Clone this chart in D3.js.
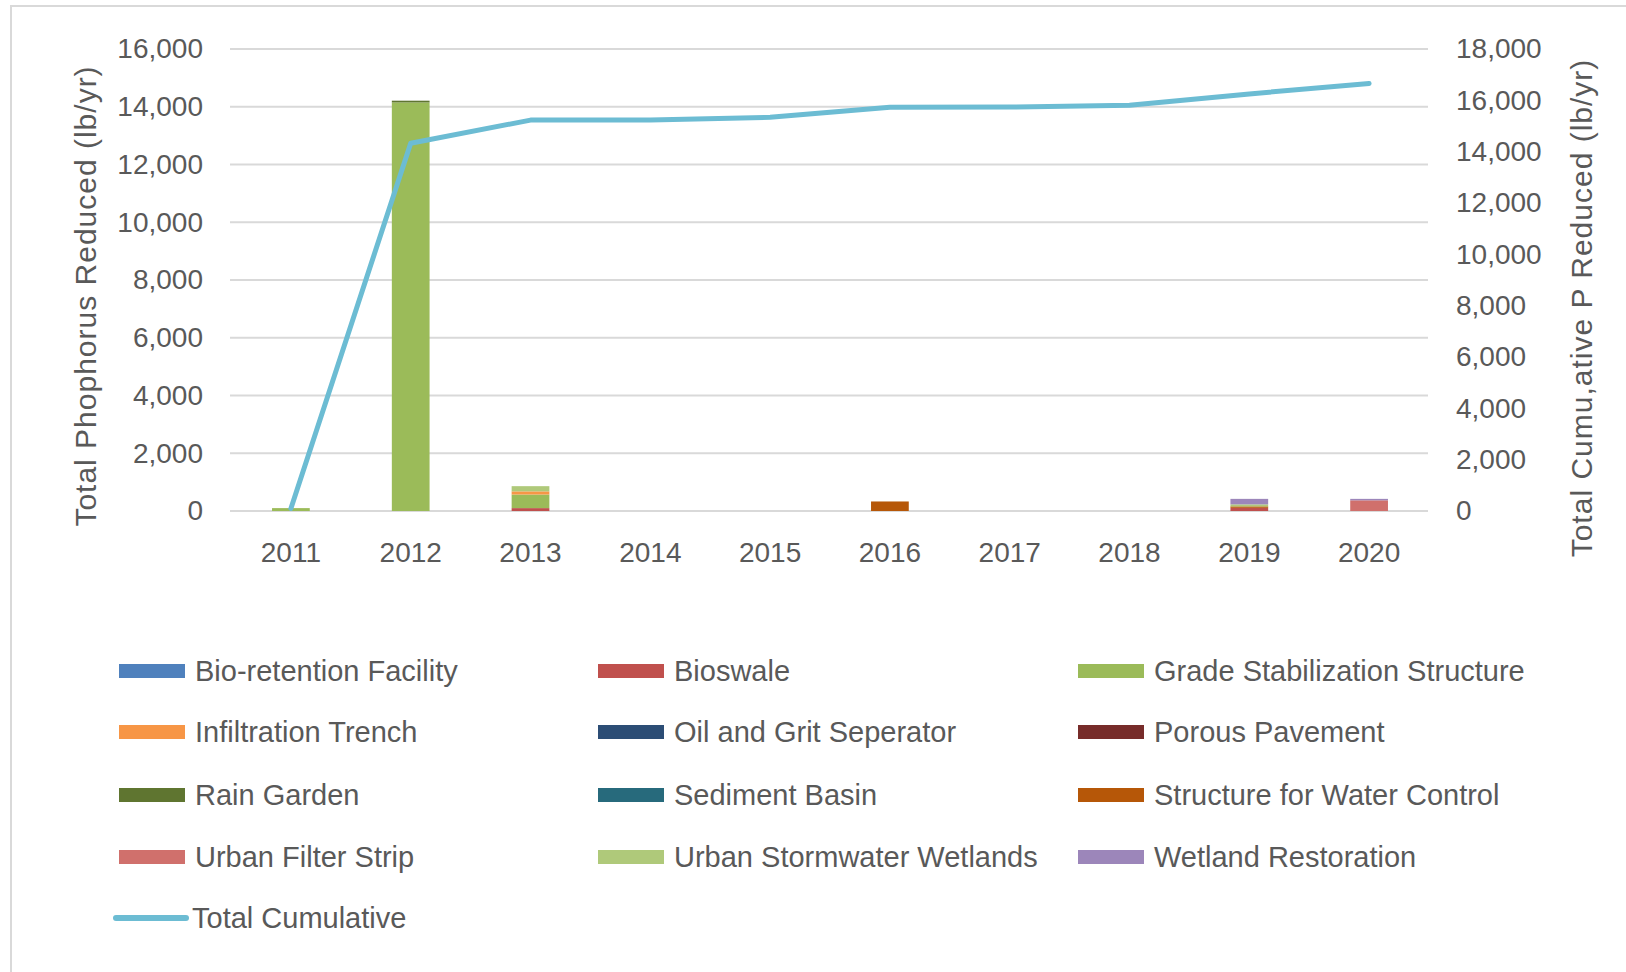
<!DOCTYPE html>
<html>
<head>
<meta charset="utf-8">
<script src="https://cdn.jsdelivr.net/npm/d3@7"></script>
<style>
  body { margin: 0; background: #fff; }
  svg text { font-family: "Liberation Sans", Arial, sans-serif; fill: #595959; }
</style>
</head>
<body>
<div id="chart"></div>
<script>
// categories
var years = ['2011', '2012', '2013', '2014', '2015', '2016', '2017', '2018', '2019', '2020'];

// stacked series, bottom to top
var seriesNames = [
    'Bio-retention Facility', 'Bioswale', 'Grade Stabilization Structure',
    'Infiltration Trench', 'Oil and Grit Seperator', 'Porous Pavement',
    'Rain Garden', 'Sediment Basin', 'Structure for Water Control',
    'Urban Filter Strip', 'Urban Stormwater Wetlands', 'Wetland Restoration'
];
var bioRetention   = [0, 0, 0, 0, 0, 0, 0, 0, 0, 0];
var bioswale       = [0, 0, 100, 0, 0, 0, 0, 0, 110, 0];
var gradeStab      = [100, 14150, 470, 0, 0, 0, 0, 0, 0, 0];
var infiltration   = [0, 0, 110, 0, 0, 0, 0, 0, 0, 0];
var oilGrit        = [0, 0, 0, 0, 0, 0, 0, 0, 0, 0];
var porous         = [0, 0, 0, 0, 0, 0, 0, 0, 0, 0];
var rainGarden     = [0, 60, 0, 0, 0, 0, 0, 0, 0, 0];
var sediment       = [0, 0, 0, 0, 0, 0, 0, 0, 0, 0];
var structureWater = [0, 0, 0, 0, 0, 330, 0, 0, 50, 0];
var urbanFilter    = [0, 0, 0, 0, 0, 0, 0, 0, 0, 370];
var urbanWetlands  = [0, 0, 180, 0, 0, 0, 0, 0, 70, 0];
var wetlandRest    = [0, 0, 0, 0, 0, 0, 0, 0, 190, 50];

// line on the right axis
var totalCumulative = [100, 14330, 15230, 15234, 15340, 15730, 15740, 15810, 16250, 16660];

// tick labels
var leftTicks = [0, 2000, 4000, 6000, 8000, 10000, 12000, 14000, 16000];
var rightTicks = [0, 2000, 4000, 6000, 8000, 10000, 12000, 14000, 16000, 18000];

var seriesValues = [bioRetention, bioswale, gradeStab, infiltration, oilGrit, porous,
    rainGarden, sediment, structureWater, urbanFilter, urbanWetlands, wetlandRest];
var colors = ['#4f81bd', '#c0504d', '#9bbb59', '#f79646', '#2c4d75', '#772c2a',
    '#5f7530', '#276a7c', '#b65708', '#d0706c', '#afc97a', '#9c86ba'];
var lineColor = '#6cbcd3';

var W = 1626, H = 972;
var svg = d3.select('#chart').append('svg').attr('width', W).attr('height', H);

// chart frame
svg.append('rect')
    .attr('x', 11).attr('y', 6).attr('width', W).attr('height', H)
    .attr('fill', 'none').attr('stroke', '#d9d9d9').attr('stroke-width', 2);

var x = d3.scaleBand().domain(years).range([231, 1429]).padding(0);
var y = d3.scaleLinear().domain([0, 16000]).range([511, 49]);
var y2 = d3.scaleLinear().domain([0, 18000]).range([511, 49]);
var fmt = d3.format(',');

// gridlines
svg.append('g').selectAll('line').data(leftTicks).join('line')
    .attr('x1', 230).attr('x2', 1428)
    .attr('y1', function (d) { return y(d); }).attr('y2', function (d) { return y(d); })
    .attr('stroke', '#d9d9d9').attr('stroke-width', 2);

// left axis
var leftAxis = svg.append('g').attr('transform', 'translate(203,0)')
    .call(d3.axisLeft(y).tickValues(leftTicks).tickFormat(fmt).tickSize(0).tickPadding(0));
leftAxis.select('.domain').remove();
leftAxis.selectAll('text').style('font-size', '28px').attr('fill', '#595959');

// right axis
var rightAxis = svg.append('g').attr('transform', 'translate(1456,0)')
    .call(d3.axisRight(y2).tickValues(rightTicks).tickFormat(fmt).tickSize(0).tickPadding(0));
rightAxis.select('.domain').remove();
rightAxis.selectAll('text').style('font-size', '28px').attr('fill', '#595959');

// bottom axis labels
var bottomAxis = svg.append('g').attr('transform', 'translate(0,542)')
    .call(d3.axisBottom(x).tickSize(0).tickPadding(0));
bottomAxis.select('.domain').remove();
bottomAxis.selectAll('text').style('font-size', '28px').attr('fill', '#595959');

// stacked bars
var table = years.map(function (yr, i) {
    var row = {year: yr};
    seriesNames.forEach(function (name, j) { row[name] = seriesValues[j][i]; });
    return row;
});
var stacked = d3.stack().keys(seriesNames)(table);
var barW = x.bandwidth() * 0.315;

svg.append('g').selectAll('g').data(stacked).join('g')
    .attr('fill', function (d, i) { return colors[i]; })
    .selectAll('rect').data(function (d) { return d; }).join('rect')
    .attr('x', function (d) { return x(d.data.year) + (x.bandwidth() - barW) / 2; })
    .attr('width', barW)
    .attr('y', function (d) { return y(d[1]); })
    .attr('height', function (d) { return y(d[0]) - y(d[1]); });

// cumulative line
var line = d3.line()
    .x(function (d, i) { return x(years[i]) + x.bandwidth() / 2; })
    .y(function (d) { return y2(d); });
svg.append('path').datum(totalCumulative)
    .attr('d', line)
    .attr('fill', 'none').attr('stroke', lineColor).attr('stroke-width', 5)
    .attr('stroke-linejoin', 'round').attr('stroke-linecap', 'round');

// axis titles
svg.append('text')
    .attr('transform', 'translate(85,296) rotate(-90)')
    .attr('text-anchor', 'middle').attr('dominant-baseline', 'central')
    .style('font-size', '30px').style('letter-spacing', '1px')
    .text('Total Phophorus Reduced (lb/yr)');
svg.append('text')
    .attr('transform', 'translate(1581,308) rotate(-90)')
    .attr('text-anchor', 'middle').attr('dominant-baseline', 'central')
    .style('font-size', '30px').style('letter-spacing', '1px')
    .text('Total Cumu,ative P Reduced (lb/yr)');

// legend
var colX = [119, 598, 1078];
var rowY = [671, 732, 795, 857, 918];
var legend = svg.append('g');
seriesNames.forEach(function (name, i) {
    var cx = colX[i % 3], cy = rowY[Math.floor(i / 3)];
    legend.append('rect').attr('x', cx).attr('y', cy - 7).attr('width', 66).attr('height', 14)
        .attr('fill', colors[i]);
    legend.append('text').attr('x', cx + 76).attr('y', cy)
        .attr('dominant-baseline', 'central').style('font-size', '29px').text(name);
});
legend.append('line').attr('x1', 116).attr('x2', 186).attr('y1', rowY[4]).attr('y2', rowY[4])
    .attr('stroke', lineColor).attr('stroke-width', 6).attr('stroke-linecap', 'round');
legend.append('text').attr('x', 192).attr('y', rowY[4])
    .attr('dominant-baseline', 'central').style('font-size', '29px').text('Total Cumulative');
</script>
</body>
</html>
